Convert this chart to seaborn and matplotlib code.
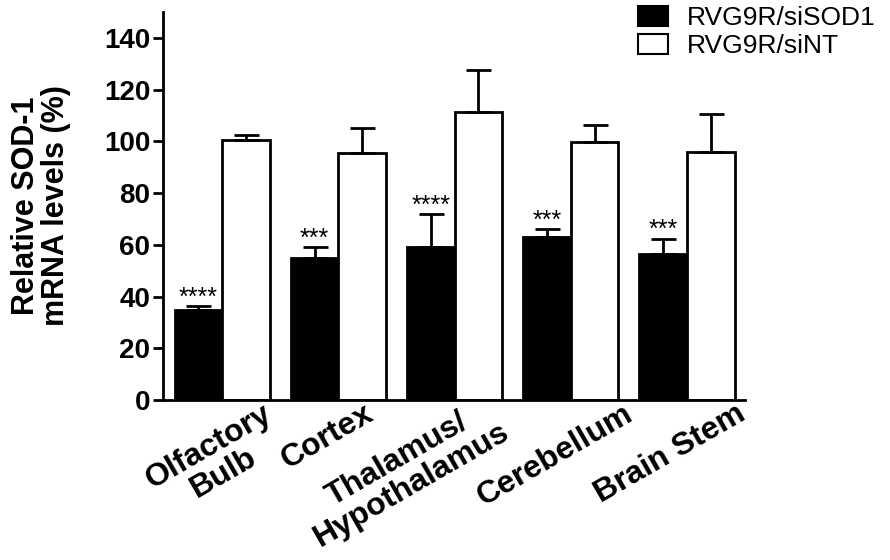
import pandas as pd
import matplotlib.pyplot as plt
import matplotlib.transforms as mtransforms
from matplotlib.patches import Patch
import seaborn as sns

# Data
regions = ['Olfactory\nBulb', 'Cortex', 'Thalamus/\nHypothalamus', 'Cerebellum', 'Brain Stem']
groups = ['RVG9R/siSOD1', 'RVG9R/siNT']
sod1_mean = [34.8, 55.0, 59.0, 63.2, 56.5]
sod1_err = [1.6, 4.2, 13.0, 2.8, 5.9]
nt_mean = [100.4, 95.4, 111.4, 99.8, 95.8]
nt_err = [1.9, 9.9, 16.1, 6.5, 14.9]
stars = ['****', '***', '****', '***', '***']

df = pd.DataFrame({
    'region': regions * 2,
    'group': [groups[0]] * 5 + [groups[1]] * 5,
    'mean': sod1_mean + nt_mean,
})

sns.set_theme(style='ticks')
plt.rcParams['font.family'] = ['Liberation Sans', 'DejaVu Sans']
plt.rcParams.update({'text.color': 'black', 'axes.labelcolor': 'black',
                     'xtick.color': 'black', 'ytick.color': 'black',
                     'axes.edgecolor': 'black'})

fig = plt.figure(figsize=(8.9, 5.6), dpi=100)
ax = fig.add_axes([163 / 890, 1 - 400 / 560, (745 - 163) / 890, (400 - 12) / 560])

sns.barplot(data=df, x='region', y='mean', hue='group', hue_order=groups,
            palette={groups[0]: 'black', groups[1]: 'white'},
            edgecolor='black', linewidth=2, width=0.82, errorbar=None,
            legend=False, ax=ax)

# one-sided error bars + significance stars
for cont, means, errs in [(ax.containers[0], sod1_mean, sod1_err),
                          (ax.containers[1], nt_mean, nt_err)]:
    xs = [b.get_x() + b.get_width() / 2 for b in cont]
    ax.errorbar(xs, means, yerr=[[0] * len(errs), errs], fmt='none',
                ecolor='black', elinewidth=2, capsize=9, capthick=2, zorder=3)

xs0 = [b.get_x() + b.get_width() / 2 for b in ax.containers[0]]
for x, m, e, s in zip(xs0, sod1_mean, sod1_err, stars):
    ax.annotate(s, (x, m + e), xytext=(0, 1), textcoords='offset points',
                ha='center', va='baseline', fontsize=18, color='black')

ax.set_ylim(0, 150)
ax.set_xlim(-0.51, 4.5)
ax.set_yticks(range(0, 141, 20))
ax.set_xlabel('')
ax.set_ylabel('Relative SOD-1\nmRNA levels (%)', fontsize=22, fontweight='bold',
              linespacing=1.0, labelpad=24)

sns.despine(ax=ax)
for sp in ['left', 'bottom']:
    ax.spines[sp].set_linewidth(2)

ax.tick_params(axis='y', length=7, width=2, labelsize=20, pad=2)
ax.tick_params(axis='x', length=0, labelsize=23, pad=0)
for lab in ax.get_yticklabels():
    lab.set_fontweight('bold')

# rotated category labels, nudged (pixels) to sit like the original
nudges = [(40, 1), (25, 1), (30, 9), (53, 1), (49, 1)]
for lab, (dx, dy) in zip(ax.get_xticklabels(), nudges):
    lab.set_fontweight('bold')
    lab.set_rotation(30)
    lab.set_ha('right')
    lab.set_va('top')
    lab.set_rotation_mode('anchor')
    lab.set_multialignment('center')
    lab.set_linespacing(1.0)
    shift = mtransforms.ScaledTranslation(dx / 100, dy / 100, fig.dpi_scale_trans)
    lab.set_transform(lab.get_transform() + shift)

handles = [Patch(facecolor='black', edgecolor='black', linewidth=1.5),
           Patch(facecolor='white', edgecolor='black', linewidth=1.5)]
fig.legend(handles, groups, loc='upper left', bbox_to_anchor=(638 / 890, 1 - 6 / 560),
           bbox_transform=fig.transFigure, frameon=False, fontsize=19,
           handlelength=1.14, handleheight=0.76, handletextpad=0.72,
           labelspacing=0.15, borderpad=0, borderaxespad=0)

fig.savefig('out.png', dpi=100)
